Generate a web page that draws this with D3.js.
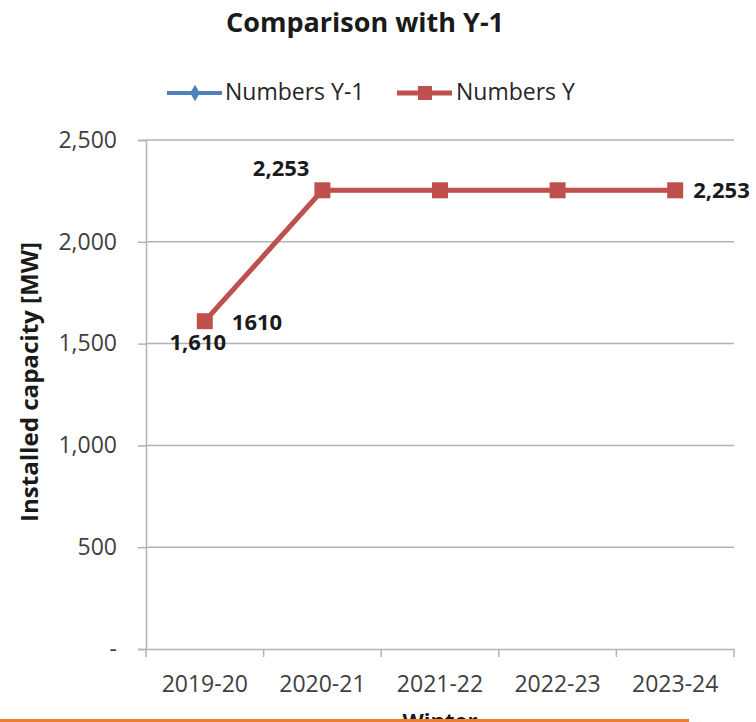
<!DOCTYPE html>
<html><head><meta charset="utf-8">
<script src="https://cdn.jsdelivr.net/npm/d3@7"></script>
<style>body{margin:0;background:#fff}svg{display:block}</style>
</head><body>
<script>
const categories = ["2019-20","2020-21","2021-22","2022-23","2023-24"];
const seriesNames = ["Numbers Y-1","Numbers Y"];
const valuesPrev = [1610, 2253, 2253, 2253, 2253];
const valuesCurr = [1610, 2253, 2253, 2253, 2253];
const yTicks = [0, 500, 1000, 1500, 2000, 2500];
const labelsPrev = ["1,610", "2,253", null, null, null];
const labelsCurr = ["1610", null, null, null, "2,253"];

const W = 756, H = 722;
const m = {left:146, right:734, top:140, bottom:649};
const svg = d3.select("body").append("svg").attr("width",W).attr("height",H);
const font = "'Open Sans', sans-serif";

const x = d3.scaleBand().domain(categories).range([m.left, m.right]);
const y = d3.scaleLinear().domain([0,2500]).range([m.bottom, m.top]);

// gridlines
svg.append("g").selectAll("line").data(yTicks.filter(d=>d>0)).join("line")
  .attr("x1",m.left).attr("x2",m.right).attr("y1",d=>y(d)).attr("y2",d=>y(d))
  .attr("stroke","#b3b3b3").attr("stroke-width",1.5);

// y axis
const ya = svg.append("g").attr("transform",`translate(${m.left},0)`)
  .call(d3.axisLeft(y).tickValues(yTicks).tickSize(8).tickPadding(21)
    .tickFormat(d=> d===0 ? "-" : d3.format(",")(d)));
ya.select(".domain").attr("stroke","#b3b3b3").attr("stroke-width",1.5);
ya.selectAll(".tick line").attr("stroke","#b3b3b3").attr("stroke-width",1.5);
ya.selectAll(".tick text").attr("fill","#404040").style("font-family",font).style("font-size","23px");

// x axis
const xa = svg.append("g").attr("transform",`translate(0,${m.bottom})`)
  .call(d3.axisBottom(x).tickSize(0).tickPadding(27));
xa.select(".domain").attr("stroke","#b3b3b3").attr("stroke-width",1.5);
xa.selectAll(".tick text").attr("fill","#404040").style("font-family",font).style("font-size","23px");
// boundary ticks
const bounds = categories.map(c=>x(c)).concat([m.right]);
svg.append("g").selectAll("line").data(bounds).join("line")
  .attr("x1",d=>d).attr("x2",d=>d).attr("y1",m.bottom).attr("y2",m.bottom+8)
  .attr("stroke","#b3b3b3").attr("stroke-width",1.5);

const cx = c => x(c) + x.bandwidth()/2;
const line = d3.line().x((d,i)=>cx(categories[i])).y(d=>y(d));

// series Y-1 (blue)
svg.append("path").datum(valuesPrev).attr("d",line).attr("fill","none")
  .attr("stroke","#4F81BD").attr("stroke-width",4);
svg.append("g").selectAll("path").data(valuesPrev).join("path")
  .attr("d",d3.symbol(d3.symbolDiamond,80))
  .attr("transform",(d,i)=>`translate(${cx(categories[i])},${y(d)})`).attr("fill","#4F81BD");

// series Y (red)
svg.append("path").datum(valuesCurr).attr("d",line).attr("fill","none")
  .attr("stroke","#C0504D").attr("stroke-width",5);
svg.append("g").selectAll("rect").data(valuesCurr).join("rect")
  .attr("x",(d,i)=>cx(categories[i])-8).attr("y",d=>y(d)-8)
  .attr("width",16).attr("height",16).attr("fill","#C0504D");

// data labels
const lblStyle = s => s.attr("fill","#1a1a1a").style("font-family",font).style("font-size","22px").style("font-weight","bold");
const prevOff = [[-7, 29, "middle"], [-13, -14, "end"]];
labelsPrev.forEach((t,i)=>{ if(!t) return;
  svg.append("text").attr("x",cx(categories[i])+prevOff[i][0]).attr("y",y(valuesPrev[i])+prevOff[i][1])
    .attr("text-anchor",prevOff[i][2]).text(t).call(lblStyle);
});
const currOff = [[27, 9], null, null, null, [18, 8]];
labelsCurr.forEach((t,i)=>{ if(!t) return;
  svg.append("text").attr("x",cx(categories[i])+currOff[i][0]).attr("y",y(valuesCurr[i])+currOff[i][1])
    .attr("text-anchor","start").text(t).call(lblStyle);
});

// title
svg.append("text").attr("x",365).attr("y",32).attr("text-anchor","middle")
  .text("Comparison with Y-1").attr("fill","#1a1a1a")
  .style("font-family",font).style("font-size","27px").style("font-weight","bold");

// y title
svg.append("text").attr("transform","translate(38,382) rotate(-90)").attr("text-anchor","middle")
  .attr("textLength",280).attr("lengthAdjust","spacingAndGlyphs")
  .text("Installed capacity [MW]").attr("fill","#1a1a1a")
  .style("font-family",font).style("font-size","24px").style("font-weight","bold");

// legend
const lg = svg.append("g");
lg.append("line").attr("x1",167).attr("x2",222).attr("y1",93).attr("y2",93).attr("stroke","#4F81BD").attr("stroke-width",4);
lg.append("path").attr("d",d3.symbol(d3.symbolDiamond,80)).attr("transform","translate(195,93)").attr("fill","#4F81BD");
lg.append("text").attr("x",225).attr("y",100).text(seriesNames[0]).attr("fill","#262626")
  .style("font-family",font).style("font-size","23px");
lg.append("line").attr("x1",397).attr("x2",452).attr("y1",93).attr("y2",93).attr("stroke","#C0504D").attr("stroke-width",5);
lg.append("rect").attr("x",418).attr("y",86).attr("width",14).attr("height",14).attr("fill","#C0504D");
lg.append("text").attr("x",456).attr("y",100).text(seriesNames[1]).attr("fill","#262626")
  .style("font-family",font).style("font-size","23px");

// cut-off x-axis title and orange rule
svg.append("text").attr("x",440).attr("y",729).attr("text-anchor","middle").text("Winter")
  .attr("fill","#1a1a1a").style("font-family",font).style("font-size","22px").style("font-weight","bold");
svg.append("rect").attr("x",0).attr("y",719).attr("width",689).attr("height",3).attr("fill","#ED7D31");
</script>
</body></html>
